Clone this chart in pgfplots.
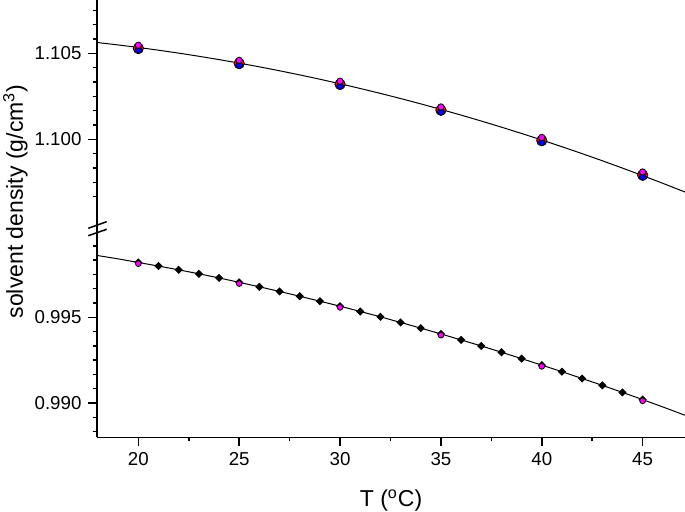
\documentclass[border=0pt]{standalone}
\usepackage{pgfplots}
\pgfplotsset{compat=1.18}
\usepackage{pgfplotstable}
\usepackage{fontspec}
\setmainfont{Liberation Sans}
\definecolor{pmag}{RGB}{255,0,255}
\definecolor{pred}{RGB}{255,0,0}
\definecolor{pblue}{RGB}{0,0,255}

% D2O fit curve
\pgfplotstableread{
T rho
17.95 1.105650
18 1.105623
19 1.105487
20 1.105340
21 1.105181
22 1.105011
23 1.104829
24 1.104635
25 1.104430
26 1.104213
27 1.103985
28 1.103745
29 1.103493
30 1.103230
31 1.102955
32 1.102669
33 1.102371
34 1.102061
35 1.101740
36 1.101407
37 1.101063
38 1.100707
39 1.100339
40 1.099960
41 1.099569
42 1.099167
43 1.098753
44 1.098327
45 1.097890
46 1.097441
47 1.096981
47.1 1.096934
}\fitD

% D2O measured points (three overlapping series)
\pgfplotstableread{
T red blue mag
20 1.10529 1.10518 1.10547
25 1.10441 1.10430 1.10459
30 1.10320 1.10309 1.10338
35 1.10170 1.10159 1.10188
40 1.09993 1.09982 1.10011
45 1.09792 1.09781 1.09810
}\ptsD

% water fit curve
\pgfplotstableread{
T rho
17.95 0.99861
18 0.99860
19 0.99841
20 0.99820
21 0.99799
22 0.99777
23 0.99754
24 0.99730
25 0.99704
26 0.99678
27 0.99651
28 0.99623
29 0.99594
30 0.99565
31 0.99534
32 0.99503
33 0.99470
34 0.99437
35 0.99403
36 0.99368
37 0.99333
38 0.99296
39 0.99259
40 0.99221
41 0.99183
42 0.99143
43 0.99103
44 0.99062
45 0.99020
46 0.98977
47 0.98933
47.1 0.98929
}\fitW

% water measured (diamonds, every degree)
\pgfplotstableread{
T rho
20 0.99820
21 0.99799
22 0.99777
23 0.99754
24 0.99730
25 0.99704
26 0.99678
27 0.99651
28 0.99623
29 0.99594
30 0.99565
31 0.99534
32 0.99503
33 0.99470
34 0.99437
35 0.99403
36 0.99368
37 0.99333
38 0.99296
39 0.99259
40 0.99221
41 0.99183
42 0.99143
43 0.99103
44 0.99062
45 0.99020
}\ptsW

% water reference points (magenta)
\pgfplotstableread{
T rho
20 0.99813
25 0.99697
30 0.99558
35 0.99396
40 0.99214
45 0.99013
}\ptsWm

\pgfplotsset{brk/.style={
  scale only axis, width=294pt,
  xmin=17.95, xmax=47.1,
  axis line style={line width=0.75pt, black},
  tick style={line width=0.75pt, black},
  tick align=outside,
  major tick length=4.25pt, minor tick length=2.1pt,
  tick label style={font=\fontsize{9.35}{11}\selectfont},
}}

\begin{document}
\begin{tikzpicture}
\begin{axis}[brk, name=lo, at={(0,0)}, anchor=south west,
  height=103.65pt, ymin=0.988, ymax=1.000095,
  axis x line*=bottom, axis y line*=left,
  xtick={20,25,30,35,40,45}, xticklabels={20,25,30,35,40,45},
  minor xtick={22.5,27.5,32.5,37.5,42.5},
  ytick={0.990,0.995}, yticklabels={0.990,0.995},
  minor ytick={0.988333,0.989167,0.990833,0.991667,0.9925,0.993333,0.994167,0.995833,0.996667,0.9975,0.998333,0.999167},
]
\addplot[black, line width=0.5pt, no marks] table[x=T, y=rho] {\fitW};
\addplot[only marks, mark=square*, mark size=1.25pt, mark options={rotate=45, fill=black, draw=black}] table[x=T, y=rho] {\ptsW};
\addplot[only marks, mark=*, mark size=1.45pt, mark options={fill=pmag, draw=none}] table[x=T, y=rho] {\ptsWm};
\end{axis}
\begin{axis}[brk, at={(0,103.65pt)}, anchor=south west,
  height=115pt, ymin=1.094728, ymax=1.1081,
  axis x line=none, axis y line*=left,
  ytick={1.100,1.105}, yticklabels={1.100,1.105},
  minor ytick={1.096667,1.0975,1.098333,1.099167,1.100833,1.101667,1.1025,1.103333,1.104167,1.105833,1.106667,1.1075},
]
\addplot[black, line width=0.5pt, no marks] table[x=T, y=rho] {\fitD};
\addplot[only marks, mark=*, mark size=2.6pt, mark options={fill=pred, draw=none}] table[x=T, y=red] {\ptsD};
\addplot[only marks, mark=*, mark size=1.7pt, mark options={fill=pblue, draw=none}] table[x=T, y=blue] {\ptsD};
\addplot[only marks, mark=*, mark size=1.6pt, mark options={fill=pmag, draw=none}] table[x=T, y=mag] {\ptsD};
\end{axis}
\draw[line width=0.75pt] (-4.35pt,104.5pt) -- (4.85pt,107.8pt);
\draw[line width=0.75pt] (-4.35pt,100.8pt) -- (4.85pt,104pt);
\node[rotate=90, anchor=base, font=\fontsize{11.5}{13}\selectfont] at (-37pt,117.9pt) {solvent density (g/cm\textsuperscript{3})};
\node[anchor=base, font=\fontsize{11.5}{13}\selectfont] at (147pt,-34.85pt) {T (\textsuperscript{o}C)};
\pgfresetboundingbox
\path (-48.5pt,-37.35pt) rectangle (294pt,218.65pt);
\end{tikzpicture}
\end{document}
